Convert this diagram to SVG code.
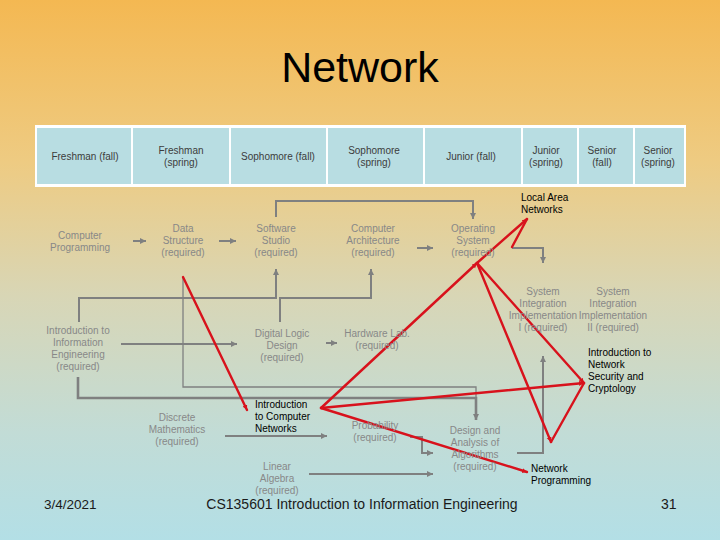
<svg xmlns="http://www.w3.org/2000/svg" width="720" height="540" viewBox="0 0 720 540">
<defs>
<linearGradient id="bg" x1="0" y1="0" x2="0" y2="1">
<stop offset="0" stop-color="#f4b852"/>
<stop offset="0.3" stop-color="#eecb82"/>
<stop offset="0.55" stop-color="#d8d6b6"/>
<stop offset="0.8" stop-color="#c2dcd6"/>
<stop offset="1" stop-color="#b3dfe6"/>
</linearGradient>
<marker id="ga" markerUnits="userSpaceOnUse" markerWidth="8" markerHeight="8" refX="6" refY="3" orient="auto">
<path d="M0,0 L6,3 L0,6 Z" fill="#7f8080"/>
</marker>
<marker id="ra" markerUnits="userSpaceOnUse" markerWidth="8" markerHeight="8" refX="5" refY="2.5" orient="auto">
<path d="M0,0 L5,2.5 L0,5 Z" fill="#d8121c"/>
</marker>
<style>
.hd{font-family:"Liberation Sans",Arial,sans-serif;font-size:10px;fill:#3c3c3c;text-anchor:middle}
.cell{fill:#b8dde2}
.g{font-family:"Liberation Sans",Arial,sans-serif;font-size:10px;fill:#888888;text-anchor:middle}
.b{font-family:"Liberation Sans",Arial,sans-serif;font-size:10px;fill:#000000}
.gl{fill:none;stroke:#7f8080;stroke-width:2}
.gt{fill:none;stroke:#7f8080;stroke-width:1.3}
.gk{fill:none;stroke:#7f8080;stroke-width:2.6}
.rl{fill:none;stroke:#d8121c;stroke-width:2.4;stroke-linecap:round}
.ft{font-family:"Liberation Sans",Arial,sans-serif;fill:#1a1a1a}
</style>
</defs>
<rect x="0" y="0" width="720" height="540" fill="url(#bg)"/>
<text x="360" y="82" font-family="Liberation Sans, Arial, sans-serif" font-size="43" text-anchor="middle" fill="#000">Network</text>

<g id="header">
<rect x="35" y="125" width="651" height="62" fill="#ffffff"/>
<rect class="cell" x="37" y="128" width="94" height="56"/>
<rect class="cell" x="133" y="128" width="96" height="56"/>
<rect class="cell" x="231" y="128" width="95" height="56"/>
<rect class="cell" x="328" y="128" width="95" height="56"/>
<rect class="cell" x="425" y="128" width="96" height="56"/>
<rect class="cell" x="523" y="128" width="54" height="56"/>
<rect class="cell" x="579" y="128" width="54" height="56"/>
<rect class="cell" x="635" y="128" width="49" height="56"/>
<text class="hd" x="85" y="160">Freshman (fall)</text>
<text class="hd" x="181" y="154">Freshman</text><text class="hd" x="181" y="166">(spring)</text>
<text class="hd" x="278" y="160">Sophomore (fall)</text>
<text class="hd" x="374" y="154">Sophomore</text><text class="hd" x="374" y="166">(spring)</text>
<text class="hd" x="471" y="160">Junior (fall)</text>
<text class="hd" x="546" y="154">Junior</text><text class="hd" x="546" y="166">(spring)</text>
<text class="hd" x="602" y="154">Senior</text><text class="hd" x="602" y="166">(fall)</text>
<text class="hd" x="658" y="154">Senior</text><text class="hd" x="658" y="166">(spring)</text>
</g>

<g id="connectors">
<path class="gl" d="M133,241 H146" marker-end="url(#ga)"/>
<path class="gl" d="M219,241 H236" marker-end="url(#ga)"/>
<path class="gl" d="M417,248 H433" marker-end="url(#ga)"/>
<path class="gl" d="M276,217 V201 H473 V219" marker-end="url(#ga)"/>
<path class="gl" d="M79,322 V298 H276 V269" marker-end="url(#ga)"/>
<path class="gl" d="M280,322 V298 H371 V269" marker-end="url(#ga)"/>
<path class="gl" d="M121,344 H237" marker-end="url(#ga)"/>
<path class="gl" d="M326,343 H337" marker-end="url(#ga)"/>
<path class="gt" d="M183,277 V387 H476 V398"/>
<path class="gk" d="M78,377 V398 H476 V420" marker-end="url(#ga)"/>
<path class="gl" d="M225,436 H327" marker-end="url(#ga)"/>
<path class="gl" d="M410,437 H422 V453 H433" marker-end="url(#ga)"/>
<path class="gl" d="M309,474 H433" marker-end="url(#ga)"/>
<path class="gl" d="M512,248 H543 V263" marker-end="url(#ga)"/>
<path class="gl" d="M517,453 H543 V356" marker-end="url(#ga)"/>

<path class="rl" d="M183,277 L247,410" marker-end="url(#ra)"/>
<path class="rl" d="M321,408 L477,263" marker-end="url(#ra)"/>
<path class="rl" d="M477,263 L527,219" marker-end="url(#ra)"/>
<path class="rl" d="M512,247 L527,219"/>
<path class="rl" d="M477,263 L584,383" marker-end="url(#ra)"/>
<path class="rl" d="M477,263 L551,442" marker-end="url(#ra)"/>
<path class="rl" d="M551,442 L584,383"/>
<path class="rl" d="M321,408 L584,383" marker-end="url(#ra)"/>
<path class="rl" d="M321,408 L527,472" marker-end="url(#ra)"/>
</g>

<g id="computer-programming"><text class="g" x="80" y="239">Computer</text><text class="g" x="80" y="251">Programming</text></g>
<g id="data-structure"><text class="g" x="183" y="232">Data</text><text class="g" x="183" y="244">Structure</text><text class="g" x="183" y="256">(required)</text></g>
<g id="software-studio"><text class="g" x="276" y="232">Software</text><text class="g" x="276" y="244">Studio</text><text class="g" x="276" y="256">(required)</text></g>
<g id="computer-architecture"><text class="g" x="373" y="232">Computer</text><text class="g" x="373" y="244">Architecture</text><text class="g" x="373" y="256">(required)</text></g>
<g id="operating-system"><text class="g" x="473" y="232">Operating</text><text class="g" x="473" y="244">System</text><text class="g" x="473" y="256">(required)</text></g>
<g id="intro-ie"><text class="g" x="78" y="334">Introduction to</text><text class="g" x="78" y="346">Information</text><text class="g" x="78" y="358">Engineering</text><text class="g" x="78" y="370">(required)</text></g>
<g id="digital-logic"><text class="g" x="282" y="337">Digital Logic</text><text class="g" x="282" y="349">Design</text><text class="g" x="282" y="361">(required)</text></g>
<g id="hardware-lab"><text class="g" x="377" y="337">Hardware Lab.</text><text class="g" x="377" y="349">(required)</text></g>
<g id="discrete-math"><text class="g" x="177" y="421">Discrete</text><text class="g" x="177" y="433">Mathematics</text><text class="g" x="177" y="445">(required)</text></g>
<g id="intro-cn"><text class="b" x="255" y="408">Introduction</text><text class="b" x="255" y="420">to Computer</text><text class="b" x="255" y="432">Networks</text></g>
<g id="probability"><text class="g" x="375" y="429">Probability</text><text class="g" x="375" y="441">(required)</text></g>
<g id="algorithms"><text class="g" x="475" y="434">Design and</text><text class="g" x="475" y="446">Analysis of</text><text class="g" x="475" y="458">Algorithms</text><text class="g" x="475" y="470">(required)</text></g>
<g id="linear-algebra"><text class="g" x="277" y="470">Linear</text><text class="g" x="277" y="482">Algebra</text><text class="g" x="277" y="494">(required)</text></g>
<g id="lan"><text class="b" x="521" y="201">Local Area</text><text class="b" x="521" y="213">Networks</text></g>
<g id="sys-int-1"><text class="g" x="543" y="295">System</text><text class="g" x="543" y="307">Integration</text><text class="g" x="543" y="319">Implementation</text><text class="g" x="543" y="331">I (required)</text></g>
<g id="sys-int-2"><text class="g" x="613" y="295">System</text><text class="g" x="613" y="307">Integration</text><text class="g" x="613" y="319">Implementation</text><text class="g" x="613" y="331">II (required)</text></g>
<g id="net-security"><text class="b" x="588" y="356">Introduction to</text><text class="b" x="588" y="368">Network</text><text class="b" x="588" y="380">Security and</text><text class="b" x="588" y="392">Cryptology</text></g>
<g id="net-programming"><text class="b" x="531" y="472">Network</text><text class="b" x="531" y="484">Programming</text></g>

<text class="ft" x="44" y="509" font-size="13.5">3/4/2021</text>
<text class="ft" x="362" y="509" font-size="14" text-anchor="middle">CS135601 Introduction to Information Engineering</text>
<text class="ft" x="661" y="509" font-size="14">31</text>
</svg>
